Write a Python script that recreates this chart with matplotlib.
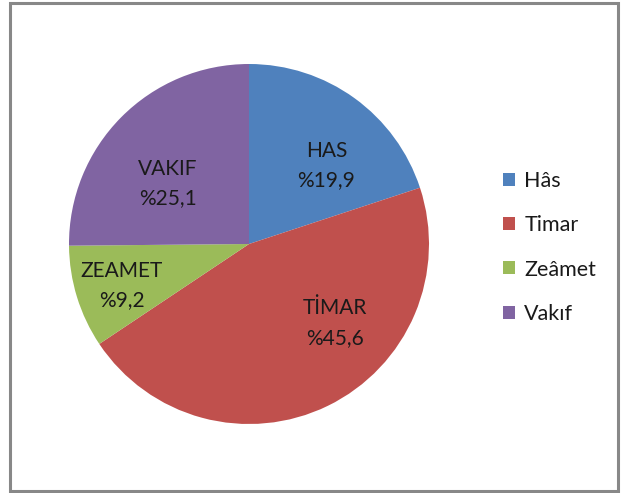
import matplotlib
matplotlib.use("Agg")
import matplotlib.pyplot as plt
from matplotlib.patches import Rectangle

categories = ["Hâs", "Timar", "Zeâmet", "Vakıf"]
slice_labels = ["HAS\n%19,9", "TİMAR\n%45,6", "ZEAMET\n%9,2", "VAKIF\n%25,1"]
values = [19.9, 45.6, 9.2, 25.1]
colors = ["#4F81BD", "#C0504D", "#9BBB59", "#8064A2"]

plt.rcParams['font.family'] = ['Lato', 'DejaVu Sans']

W, H = 622, 493
fig = plt.figure(figsize=(W/100, H/100), dpi=100)
fig.patch.set_facecolor("white")

cx, cy, r = 249, 244, 180
ax = fig.add_axes([(cx - r)/W, (H - cy - r)/H, 2*r/W, 2*r/H])
wedges, _ = ax.pie(values, colors=colors, startangle=90, counterclock=False,
                   radius=1, wedgeprops=dict(linewidth=0))
ax.set_xlim(-1, 1)
ax.set_ylim(-1, 1)
ax.set_aspect("equal")
ax.axis("off")

# label positions (fraction of radius)
label_pos = [(0.43, 0.436), (0.478, -0.439), (-0.708, -0.231), (-0.45, 0.336)]
for txt, (x, y) in zip(slice_labels, label_pos):
    ax.text(x, y, txt, ha="center", va="center", fontsize=15,
            color="#1a1a1a", linespacing=1.6)

leg = fig.legend(wedges, categories, loc="upper left",
                 bbox_to_anchor=(484/W, 1 - 152/H), frameon=False,
                 fontsize=15.5, handlelength=0.55, handleheight=0.55,
                 handletextpad=0.42, labelspacing=1.12)
for t in leg.get_texts():
    t.set_color("#1a1a1a")

fig.patches.append(Rectangle((10/W, 2/H), 608/W, 488/H, transform=fig.transFigure,
                             fill=False, edgecolor="#888888", linewidth=2.2))

fig.savefig("out.png", dpi=100)
